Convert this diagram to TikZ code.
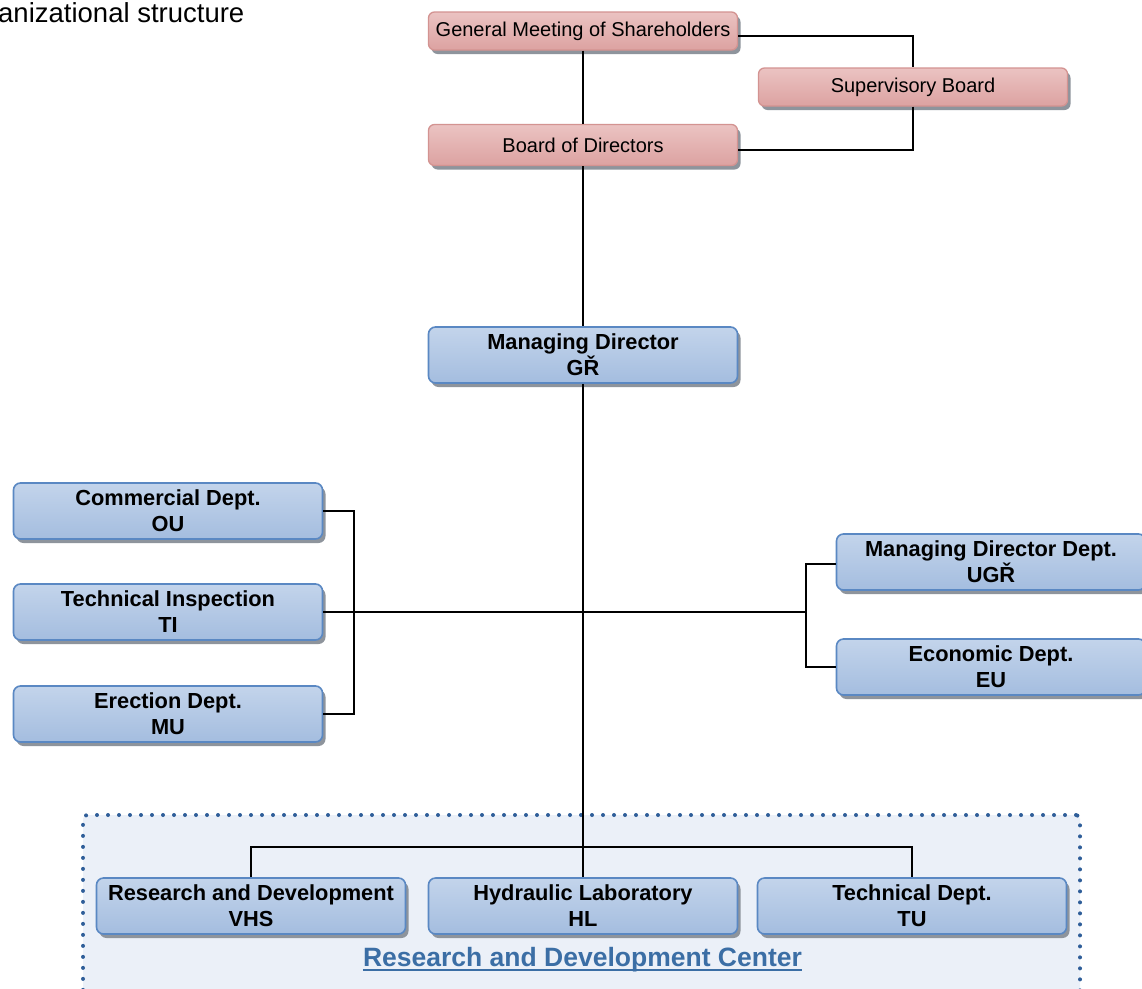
\documentclass[tikz,border=0pt]{standalone}
\usepackage{fontspec}
\setmainfont{Liberation Sans}
\usetikzlibrary{shadows}
\definecolor{bxborder}{HTML}{5A88C3}
\definecolor{bxtop}{HTML}{C3D4EB}
\definecolor{bxmid}{HTML}{E3EAF5}
\definecolor{bxbot}{HTML}{A4BDDF}
\definecolor{pkborder}{HTML}{D39391}
\definecolor{pktop}{HTML}{EBC3C2}
\definecolor{pkmid}{HTML}{F7E9E9}
\definecolor{pkbot}{HTML}{DCA2A1}
\definecolor{shgray}{HTML}{8E949C}
\definecolor{regfill}{HTML}{EBF0F8}
\definecolor{regdots}{HTML}{2F5E99}
\definecolor{lblblue}{HTML}{3B6EA5}
\tikzset{
  bluebox/.style={rounded corners=7pt, draw=bxborder, line width=1.6pt,
    top color=bxtop, middle color=bxmid, bottom color=bxbot,
    drop shadow={shadow xshift=3pt, shadow yshift=-4pt, fill=shgray, opacity=1},
    minimum width=309pt, minimum height=56pt, inner sep=0pt, align=center,
    font=\bfseries\fontsize{21.8}{26}\selectfont},
  pinkbox/.style={rounded corners=6pt, draw=pkborder, line width=1.3pt,
    top color=pktop, middle color=pkmid, bottom color=pkbot,
    drop shadow={shadow xshift=3pt, shadow yshift=-4pt, fill=shgray, opacity=1},
    minimum width=309pt, minimum height=38pt, inner sep=0pt, align=center,
    font=\fontsize{20}{24}\selectfont},
  conn/.style={draw=black, line width=2pt},
  region/.style={draw=regdots, fill=regfill, line width=4pt, dash pattern=on 0pt off 11pt,
    line cap=round, rounded corners=4pt, minimum width=997pt, minimum height=190pt, inner sep=0pt},
}
\begin{document}
\begin{tikzpicture}[x=1pt,y=-1pt]
\useasboundingbox (0,0) rectangle (1142,988);
\clip (0,0) rectangle (1142,988);
\fill[white] (0,0) rectangle (1142,988);

\node[anchor=base west, inner sep=0pt, font=\fontsize{27.5}{31}\selectfont] (title) at (-2,22) {anizational structure};

% region
\node[region] (rdc) at (581.5,910) {};
\node[anchor=base, inner sep=0pt, text=lblblue, font=\bfseries\fontsize{26.5}{30}\selectfont] (lbl) at (582.5,966) {Research and Development Center};
\draw[lblblue, line width=2.2pt] ([yshift=-4pt]lbl.base west) -- ([yshift=-4pt]lbl.base east);

% top pink boxes
\node[pinkbox] (gms) at (583,31) {General Meeting of Shareholders};
\node[pinkbox] (sb) at (913,87) {Supervisory Board};
\node[pinkbox, minimum height=41pt] (bod) at (583,145) {Board of Directors};

% blue boxes
\node[bluebox] (md) at (583,355) {Managing Director\\GŘ};
\node[bluebox] (ou) at (168,511) {Commercial Dept.\\OU};
\node[bluebox] (ti) at (168,612) {Technical Inspection\\TI};
\node[bluebox] (mu) at (168,714) {Erection Dept.\\MU};
\node[bluebox] (ugr) at (991,562) {Managing Director Dept.\\UGŘ};
\node[bluebox] (eu) at (991,667) {Economic Dept.\\EU};
\node[bluebox] (vhs) at (251,906) {Research and Development\\VHS};
\node[bluebox] (hl) at (583,906) {Hydraulic Laboratory\\HL};
\node[bluebox] (tu) at (912,906) {Technical Dept.\\TU};

% connectors
\coordinate (rb) at (807,612);
\draw[conn] ([yshift=-5pt]gms.east) -| (sb.north);
\draw[conn] (sb.south) |- ([yshift=-5pt]bod.east);
\draw[conn] (gms.south) -- (bod.north);
\draw[conn] (bod.south) -- (md.north);
\draw[conn] (md.south) -- (hl.north);
\draw[conn] (ou.east) -- ++(31,0) |- (mu.east);
\draw[conn] (ti.east) -- (rb);
\draw[conn] ([yshift=-1.5pt]ugr.west) -- ++(-30,0) |- (eu.west);
\draw[conn] (vhs.north) -- ++(0,-30) -| (tu.north);
\end{tikzpicture}
\end{document}
